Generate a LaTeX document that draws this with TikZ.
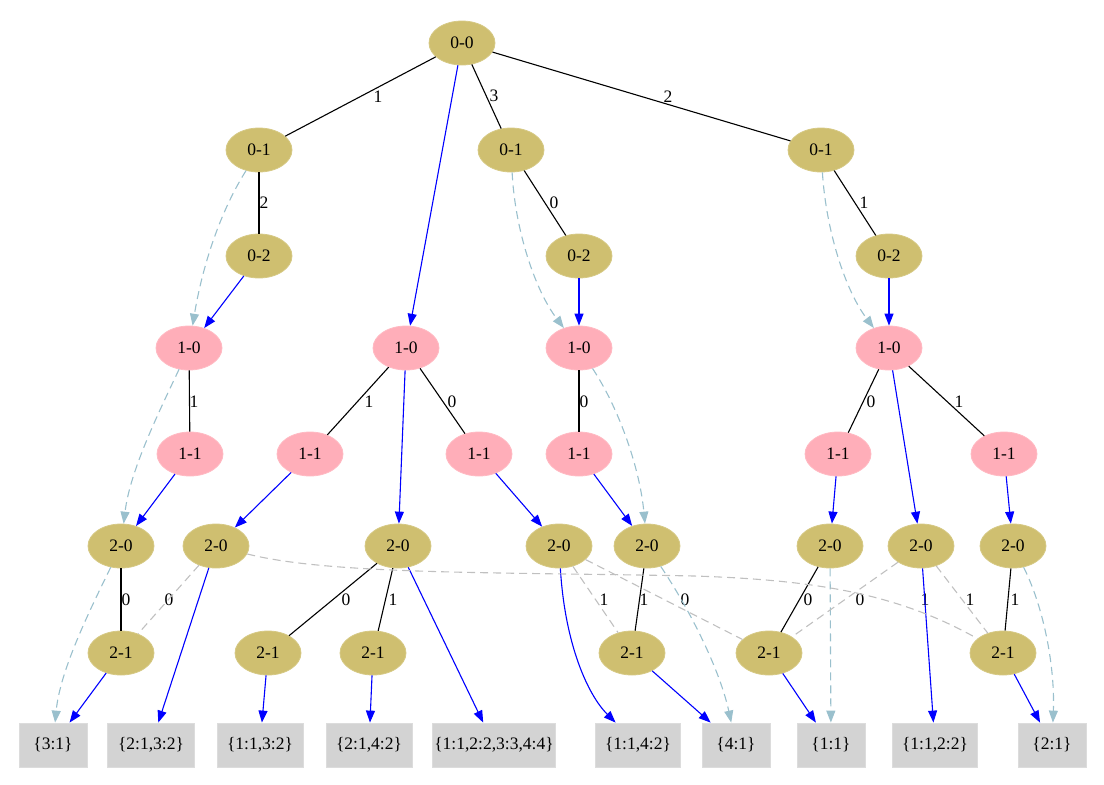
\documentclass[tikz,border=0pt]{standalone}
\usepackage{fontspec}
\setmainfont{Liberation Serif}
\usetikzlibrary{arrows.meta,shapes.geometric}
\definecolor{khaki}{RGB}{207,191,112}
\definecolor{pinkf}{RGB}{255,174,185}
\definecolor{boxg}{RGB}{211,211,211}
\definecolor{lblue}{RGB}{154,192,205}
\definecolor{dgrey}{RGB}{192,192,192}
\begin{document}
\begin{tikzpicture}[x=1pt,y=-1pt,
  every node/.style={font=\fontsize{17.5}{19}\selectfont, inner sep=0pt},
  kn/.style={ellipse, fill=khaki, draw=khaki!85!white, line width=0.8pt, minimum width=66pt, minimum height=44pt},
  pn/.style={ellipse, fill=pinkf, draw=pinkf!85!white, line width=0.8pt, minimum width=66pt, minimum height=44pt},
  leaf/.style={rectangle, fill=boxg, draw=boxg!80!white, line width=0.8pt, minimum height=44pt},
  tre/.style={draw=black, line width=1.1pt},
  blu/.style={draw=blue, line width=1.1pt, -{Triangle[length=12pt,width=9pt]}},
  lbd/.style={draw=lblue, line width=1.1pt, dash pattern=on 8pt off 5pt, -{Triangle[length=12pt,width=9pt]}},
  gry/.style={draw=dgrey, line width=1.1pt, dash pattern=on 8pt off 5pt},
  lab/.style={font=\fontsize{17.5}{19}\selectfont}
]
\useasboundingbox (0,0) rectangle (1104,785);
% level 0
\node[kn] (n00) at (462,43) {0-0};
\node[kn] (a1) at (259,150) {0-1};
\node[kn] (b1) at (511,150) {0-1};
\node[kn] (c1) at (821,150) {0-1};
\node[kn] (a2) at (259,256) {0-2};
\node[kn] (b2) at (579,256) {0-2};
\node[kn] (c2) at (889,256) {0-2};
% 1-0
\node[pn] (ra) at (189,348) {1-0};
\node[pn] (rb) at (406,348) {1-0};
\node[pn] (rc) at (579,348) {1-0};
\node[pn] (rd) at (889,348) {1-0};
% 1-1
\node[pn] (sa) at (190,454) {1-1};
\node[pn] (sb) at (310,454) {1-1};
\node[pn] (sc) at (479,454) {1-1};
\node[pn] (sd) at (579,454) {1-1};
\node[pn] (se) at (838,454) {1-1};
\node[pn] (sf) at (1004,454) {1-1};
% 2-0
\node[kn] (ta) at (121,546) {2-0};
\node[kn] (tb) at (216,546) {2-0};
\node[kn] (tc) at (398,546) {2-0};
\node[kn] (td) at (559,546) {2-0};
\node[kn] (te) at (647,546) {2-0};
\node[kn] (tf) at (830,546) {2-0};
\node[kn] (tg) at (921,546) {2-0};
\node[kn] (th) at (1013,546) {2-0};
% 2-1
\node[kn] (ua) at (121,653) {2-1};
\node[kn] (ub) at (268,653) {2-1};
\node[kn] (uc) at (373,653) {2-1};
\node[kn] (ud) at (632,653) {2-1};
\node[kn] (ue) at (769,653) {2-1};
\node[kn] (uf) at (1003,653) {2-1};
% leaves
\node[leaf, minimum width=68pt] (L1) at (53,745) {\{3:1\}};
\node[leaf, minimum width=87pt] (L2) at (151,745) {\{2:1,3:2\}};
\node[leaf, minimum width=86pt] (L3) at (260,745) {\{1:1,3:2\}};
\node[leaf, minimum width=86pt] (L4) at (369,745) {\{2:1,4:2\}};
\node[leaf, minimum width=123pt] (L5) at (494,745) {\{1:1,2:2,3:3,4:4\}};
\node[leaf, minimum width=85pt] (L6) at (638,745) {\{1:1,4:2\}};
\node[leaf, minimum width=68pt] (L7) at (736,745) {\{4:1\}};
\node[leaf, minimum width=68pt] (L8) at (831,745) {\{1:1\}};
\node[leaf, minimum width=85pt] (L9) at (935,745) {\{1:1,2:2\}};
\node[leaf, minimum width=68pt] (L10) at (1052,745) {\{2:1\}};

% black tree edges
\draw[tre] (n00) -- (a1);
\draw[tre] (n00) -- (b1);
\draw[tre] (n00) -- (c1);
\draw[tre] (a1) -- (a2);
\draw[tre] (b1) -- (b2);
\draw[tre] (c1) -- (c2);
\draw[tre] (ra) -- (sa);
\draw[tre] (rb) -- (sb);
\draw[tre] (rb) -- (sc);
\draw[tre] (rc) -- (sd);
\draw[tre] (rd) -- (se);
\draw[tre] (rd) -- (sf);
\draw[tre] (ta) -- (ua);
\draw[tre] (tc) -- (ub);
\draw[tre] (tc) -- (uc);
\draw[tre] (te) -- (ud);
\draw[tre] (tf) -- (ue);
\draw[tre] (th) -- (uf);
\node[lab] (l1) at (378,97) {1};
\node[lab] (l2) at (494,96) {3};
\node[lab] (l3) at (668,97) {2};
\node[lab] (l4) at (264,203) {2};
\node[lab] (l5) at (554,203) {0};
\node[lab] (l6) at (864,203) {1};
\node[lab] (l7) at (194,402) {1};
\node[lab] (l8) at (369,402) {1};
\node[lab] (l9) at (452,402) {0};
\node[lab] (l10) at (584,402) {0};
\node[lab] (l11) at (871,402) {0};
\node[lab] (l12) at (959,402) {1};
\node[lab] (l13) at (126,600) {0};
\node[lab] (l14) at (169,600) {0};
\node[lab] (l15) at (346,600) {0};
\node[lab] (l16) at (393,600) {1};
\node[lab] (l17) at (604,600) {1};
\node[lab] (l18) at (644,600) {1};
\node[lab] (l19) at (685,600) {0};
\node[lab] (l20) at (808,600) {0};
\node[lab] (l21) at (860,600) {0};
\node[lab] (l22) at (925,600) {1};
\node[lab] (l23) at (970,600) {1};
\node[lab] (l24) at (1015,600) {1};

% blue arrows
\draw[blu] (n00) -- (rb);
\draw[blu] (a2) -- (ra);
\draw[blu] (b2) -- (rc);
\draw[blu] (c2) -- (rd);
\draw[blu] (sa) -- (ta);
\draw[blu] (sb) -- (tb);
\draw[blu] (rb) -- (tc);
\draw[blu] (sc) -- (td);
\draw[blu] (sd) -- (te);
\draw[blu] (se) -- (tf);
\draw[blu] (rd) -- (tg);
\draw[blu] (sf) -- (th);
\draw[blu] (ua) -- (L1);
\draw[blu] (tb) -- (L2);
\draw[blu] (ub) -- (L3);
\draw[blu] (uc) -- (L4);
\draw[blu] (tc) -- (L5);
\draw[blu] (td) .. controls (565,645) and (588,695) .. (L6);
\draw[blu] (ud) -- (L7);
\draw[blu] (ue) -- (L8);
\draw[blu] (tg) -- (L9);
\draw[blu] (uf) -- (L10);

% light blue dashed arrows
\draw[lbd] (a1) .. controls (215,220) and (200,280) .. (ra);
\draw[lbd] (ra) .. controls (160,410) and (130,470) .. (ta);
\draw[lbd] (ta) .. controls (90,610) and (60,670) .. (L1);
\draw[lbd] (b1) .. controls (515,230) and (535,290) .. (rc);
\draw[lbd] (rc) .. controls (620,410) and (640,470) .. (te);
\draw[lbd] (te) .. controls (690,610) and (720,670) .. (L7);
\draw[lbd] (c1) .. controls (826,230) and (845,290) .. (rd);
\draw[lbd] (tf) -- (L8);
\draw[lbd] (th) .. controls (1045,610) and (1055,670) .. (L10);

% grey dashed
\coordinate (gm) at (694,576);
\draw[gry] (tb) -- (ua);
\draw[gry] (tb) .. controls (330,575) and (500,572) .. (gm) .. controls (820,580) and (900,595) .. (uf);
\draw[gry] (td) -- (ud);
\draw[gry] (td) -- (ue);
\draw[gry] (tg) -- (ue);
\draw[gry] (tg) -- (uf);
\end{tikzpicture}
\end{document}
